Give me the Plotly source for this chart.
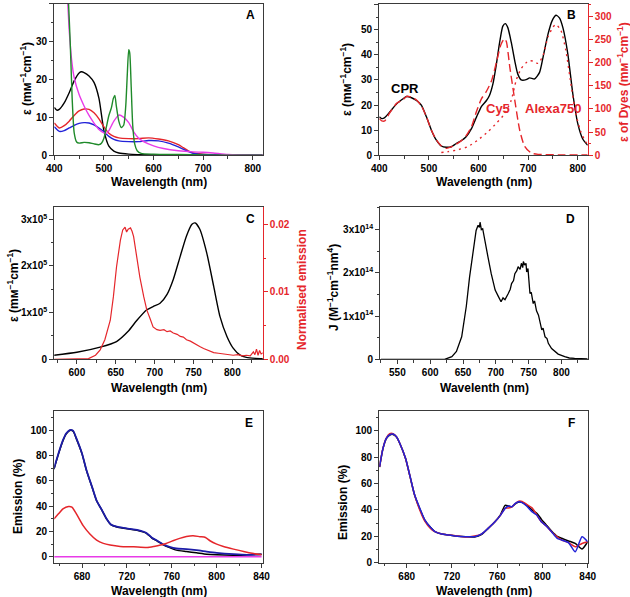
import plotly.graph_objects as go

# ---------------- DATA ----------------
# Panel A: absorbance (epsilon, mM^-1 cm^-1)
a_black_x = [400, 405, 410, 420, 430, 440, 450, 455, 460, 470, 480, 490, 500, 510, 520, 530, 550, 600, 700, 820]
a_black_y = [12.6, 11.9, 12.1, 13.8, 16.5, 19.6, 21.7, 22.0, 21.8, 20.9, 19.2, 15.0, 6.5, 2.4, 1.1, 0.6, 0.3, 0.1, 0.0, 0.0]

a_red_x = [400, 410, 420, 430, 440, 450, 460, 470, 480, 490, 500, 510, 520, 530, 550, 570, 590, 610, 630, 650, 660, 670, 680, 700, 750, 820]
a_red_y = [8.5, 7.2, 7.8, 9.0, 10.5, 11.7, 12.2, 12.1, 11.2, 9.6, 7.5, 5.8, 5.0, 4.6, 4.4, 4.4, 4.6, 4.3, 3.8, 2.8, 2.0, 1.2, 0.6, 0.3, 0.1, 0.0]

a_blue_x = [400, 410, 420, 430, 440, 450, 460, 470, 480, 490, 500, 510, 520, 530, 550, 570, 590, 610, 630, 650, 660, 670, 680, 700, 820]
a_blue_y = [7.5, 6.3, 6.5, 7.2, 7.9, 8.4, 8.6, 8.5, 8.0, 7.2, 6.2, 5.0, 4.2, 3.8, 3.6, 3.6, 3.9, 3.8, 3.2, 2.2, 1.6, 1.0, 0.5, 0.2, 0.0]

a_mag_x = [400, 420, 427, 430, 435, 440, 450, 460, 470, 480, 490, 500, 505, 510, 520, 530, 540, 550, 560, 570, 580, 600, 620, 650, 680, 700, 720, 750, 800, 820]
a_mag_y = [70, 48, 40, 33, 25, 20.5, 16.0, 13.0, 10.5, 8.5, 6.8, 5.9, 5.8, 6.5, 9.0, 10.6, 10.0, 8.6, 6.2, 4.5, 3.6, 2.5, 1.8, 1.2, 0.9, 0.8, 0.6, 0.2, 0.0, 0.0]

a_green_x = [400, 420, 428, 432, 436, 440, 445, 450, 460, 470, 480, 490, 495, 500, 505, 510, 515, 519, 522, 525, 530, 535, 540, 544, 547, 550, 552, 555, 558, 562, 567, 575, 600, 650, 700, 800, 820]
a_green_y = [90, 60, 42, 30, 15, 6.0, 3.5, 3.2, 3.4, 3.3, 3.0, 2.8, 3.2, 4.5, 7.5, 10.5, 12.5, 15.0, 15.8, 13.0, 9.0, 7.3, 8.0, 13.0, 21.0, 27.8, 27.0, 18.0, 8.0, 3.0, 1.2, 0.5, 0.3, 0.2, 0.1, 0.0, 0.0]

# Panel B: CPR conjugate (left axis) and dyes (right axis)
b_cpr_x = [400, 405, 411, 421, 435, 448, 455, 465, 475, 485, 495, 505, 515, 525, 535, 545, 555, 565, 575, 586, 596, 606, 616, 622, 629, 636, 643, 649, 654, 659, 666, 673, 679, 686, 696, 703, 713, 723, 730, 740, 748, 756, 763, 770, 780, 790, 800, 810, 820]
b_cpr_y = [15.3, 14.6, 15.0, 17.2, 20.5, 22.5, 23.4, 22.9, 21.8, 19.9, 15.3, 10.0, 6.0, 3.7, 3.2, 3.4, 4.7, 5.8, 7.4, 10.7, 15.3, 19.5, 21.8, 23.8, 28.4, 36.3, 45.5, 51.4, 52.4, 50.8, 44.9, 37.6, 32.4, 30.0, 30.1, 30.8, 30.4, 33.0, 39.0, 48.2, 53.4, 55.7, 54.7, 50.8, 40.3, 24.5, 12.6, 6.5, 4.0]

b_cy5_x = [400, 405, 411, 420, 435, 448, 455, 465, 475, 485, 495, 505, 515, 525, 535, 545, 555, 565, 575, 586, 596, 606, 616, 626, 636, 645, 652, 656, 663, 673, 683, 693, 706, 720, 760, 820]
b_cy5_y = [79, 74, 74, 90, 112, 120, 127, 125, 119, 106, 83, 54, 33, 20, 15, 18, 24, 31, 42, 62, 95, 122, 138, 160, 200, 238, 251, 245, 190, 119, 54, 19, 5, 2, 1, 1]

b_alexa_x = [525, 539, 559, 579, 599, 619, 636, 653, 666, 676, 686, 700, 710, 720, 730, 740, 750, 756, 766, 776, 786, 796, 806, 816, 820]
b_alexa_y = [6, 8, 12, 19, 33, 51, 69, 90, 119, 162, 187, 203, 203, 198, 215, 255, 276, 282, 269, 226, 155, 90, 51, 29, 25]

b_labels = ["CPR", "Cy5", "Alexa750"]

# Panel C: absorbance of acceptor (left) and donor emission (right)
c_abs_x = [570, 600, 630, 651, 666, 677, 690, 698, 707, 716, 724, 733, 741, 748, 752, 758, 767, 776, 784, 793, 801, 810, 818, 830, 840]
c_abs_y = [8.6e3, 1.5e4, 2.6e4, 3.8e4, 6.0e4, 8.3e4, 1.06e5, 1.13e5, 1.20e5, 1.39e5, 1.71e5, 2.21e5, 2.64e5, 2.89e5, 2.92e5, 2.79e5, 2.28e5, 1.56e5, 9.2e4, 4.9e4, 2.4e4, 9.0e3, 4.0e3, 2.0e3, 1.4e3]

c_em_x = [570, 600, 615, 624, 630, 636, 643, 647, 651, 656, 659, 662, 664, 666, 669, 671, 673, 677, 681, 686, 690, 694, 698, 703, 707, 712, 716, 720, 724, 729, 733, 737, 741, 746, 750, 754, 758, 763, 767, 772, 776, 782, 789, 795, 801, 807, 813, 818, 823, 827, 829, 831, 833, 835, 837, 840]
c_em_y = [0.0, 0.0, 0.0001, 0.0006, 0.0014, 0.0029, 0.0058, 0.0093, 0.0137, 0.0177, 0.0192, 0.0196, 0.0189, 0.0193, 0.0195, 0.0190, 0.0182, 0.0152, 0.0122, 0.0093, 0.0073, 0.0061, 0.0048, 0.0044, 0.0043, 0.0044, 0.0041, 0.0042, 0.0039, 0.0037, 0.0034, 0.0033, 0.0029, 0.0027, 0.0024, 0.0022, 0.0019, 0.0016, 0.0014, 0.0012, 0.0010, 0.0009, 0.0008, 0.0007, 0.0006, 0.0007, 0.0005, 0.0006, 0.0005, 0.0011, 0.0007, 0.0015, 0.0006, 0.0013, 0.0008, 0.0010]

# Panel D: overlap integral J
d_x = [525, 600, 622, 633, 640, 648, 655, 660, 666, 670, 673, 675, 676, 678, 680, 683, 688, 693, 699, 704, 708, 711, 714, 719, 722, 724, 727, 729, 732, 734, 737, 739, 741, 742, 744, 746, 747, 749, 752, 754, 757, 759, 762, 765, 768, 770, 772, 775, 778, 780, 785, 790, 795, 805, 812, 820, 830, 840]
d_y = [0, 0, 0.0, 0.06e14, 0.18e14, 0.52e14, 1.22e14, 1.90e14, 2.60e14, 2.98e14, 3.10e14, 3.05e14, 3.17e14, 3.00e14, 3.02e14, 2.75e14, 2.37e14, 1.98e14, 1.60e14, 1.45e14, 1.33e14, 1.42e14, 1.38e14, 1.52e14, 1.62e14, 1.75e14, 1.82e14, 1.98e14, 2.05e14, 2.14e14, 2.08e14, 2.22e14, 2.12e14, 2.26e14, 2.18e14, 2.22e14, 2.02e14, 2.10e14, 1.52e14, 1.55e14, 1.29e14, 1.35e14, 1.12e14, 1.02e14, 0.85e14, 0.68e14, 0.72e14, 0.52e14, 0.48e14, 0.37e14, 0.25e14, 0.18e14, 0.12e14, 0.06e14, 0.03e14, 0.02e14, 0.02e14, 0.01e14]

# Panel E: emission (%)
e_x = [655, 659, 663, 666, 669, 672, 675, 680, 684, 689, 693, 698, 702, 706, 711, 717, 723, 729, 735, 738, 742, 747, 752, 758, 764, 773, 782, 791, 800, 815, 827, 840]
e_blue = [69.6, 81.5, 92.0, 97.4, 100.0, 99.5, 93.4, 81.5, 68.3, 55.0, 44.4, 36.5, 29.9, 25.4, 23.8, 22.8, 22.0, 21.2, 19.8, 18.5, 15.3, 12.7, 10.0, 7.9, 6.6, 6.1, 5.3, 4.2, 3.2, 2.1, 1.6, 2.0]
e_black = [69.0, 81.0, 91.6, 97.0, 99.6, 99.2, 93.0, 81.2, 68.0, 54.8, 44.2, 36.3, 29.7, 25.2, 23.6, 22.6, 21.8, 21.0, 19.5, 18.2, 15.0, 12.4, 9.7, 7.3, 5.3, 4.2, 3.2, 2.1, 1.6, 1.3, 1.6, 2.0]
e_red_x = [655, 659, 663, 668, 671, 675, 681, 687, 693, 699, 705, 714, 726, 738, 744, 750, 755, 761, 767, 773, 779, 785, 790, 794, 800, 806, 815, 824, 833, 840]
e_red_y = [29.9, 33.9, 37.8, 39.7, 39.2, 33.9, 24.6, 18.0, 13.2, 10.6, 9.3, 8.2, 7.9, 7.4, 8.2, 9.3, 10.6, 12.7, 14.6, 16.1, 16.7, 15.9, 15.3, 12.7, 10.0, 8.2, 6.1, 4.2, 2.6, 1.6]
e_mag_x = [655, 840]
e_mag_y = [0, 0]

# Panel F: normalised emission (%)
f_x = [656, 659, 662, 665, 668, 671, 674, 679, 683, 687, 692, 696, 701, 705, 711, 717, 723, 732, 740, 746, 752, 758, 763, 767, 770, 773, 776, 779, 782, 786, 791, 795, 799, 804, 808, 813, 817, 823, 829, 835, 840]
f_red = [72.7, 86.6, 94.5, 97.8, 97.8, 95.5, 90.4, 79.0, 65.2, 51.3, 39.0, 31.5, 26.0, 23.5, 21.7, 21.0, 20.5, 19.5, 20.2, 21.7, 26.0, 31.0, 36.1, 41.2, 41.5, 42.4, 44.9, 46.7, 46.5, 44.2, 41.5, 36.1, 31.1, 27.3, 23.5, 19.7, 17.2, 15.2, 12.0, 14.6, 15.9]
f_black = [72.5, 86.3, 94.0, 96.8, 97.2, 95.2, 90.2, 79.0, 65.2, 51.3, 39.9, 32.3, 26.8, 23.5, 21.7, 21.0, 20.2, 19.7, 19.5, 21.2, 26.0, 31.0, 36.5, 43.5, 43.0, 42.4, 44.5, 46.0, 45.8, 43.7, 39.9, 37.5, 33.0, 28.0, 24.0, 20.0, 18.5, 16.5, 14.6, 10.4, 15.9]
f_blue = [72.6, 86.5, 94.2, 97.0, 97.5, 95.5, 90.4, 79.2, 65.4, 51.5, 40.5, 32.5, 26.8, 23.5, 21.7, 21.0, 20.2, 19.7, 19.7, 21.7, 26.0, 31.0, 36.1, 41.2, 42.9, 42.4, 44.9, 46.2, 45.5, 43.0, 38.5, 36.1, 31.1, 27.3, 23.5, 18.5, 17.2, 15.2, 8.3, 19.7, 15.9]

# ---------------- STYLE / LAYOUT ----------------
W, H = 630, 597
FONT = "Liberation Sans, Arial, sans-serif"
AX = "#3a3a3a"
RED = "#e5262b"
BLUE_E = "#1c1ca8"
BLUE = "#2222d8"
GREEN = "#1f8a2a"
MAG = "#e83be8"


def fx(p):
    return p / W


def fy(p):
    return 1 - p / H


def tickfont(color="black"):
    return dict(family=FONT, size=10, color=color, weight=700)


def axis(domain, rng, dtick, minor, anchor, color=AX, lblcolor="black", mirror=True,
         tickvals=None, ticktext=None, **kw):
    d = dict(domain=domain, range=rng, anchor=anchor, showgrid=False, zeroline=False,
             automargin=False,
             showline=True, linecolor=color, linewidth=1.3, mirror=mirror,
             ticks="outside", ticklen=4, tickwidth=1.2, tickcolor=color,
             tickfont=tickfont(lblcolor),
             minor=dict(ticks="outside", ticklen=2.5, tickwidth=1, tickcolor=color,
                        tickmode="linear", tick0=0, dtick=minor, showgrid=False))
    if tickvals is not None:
        d.update(tickmode="array", tickvals=tickvals, ticktext=ticktext)
    else:
        d.update(tickmode="linear", tick0=0, dtick=dtick)
    d.update(kw)
    return d


# plot areas in pixels (left, right, top, bottom)
PA = dict(A=(54.3, 262.7, 3.5, 155.3), B=(379.3, 587.7, 3.5, 155.3),
          C=(54.3, 262.7, 207.3, 359.3), D=(380.3, 587.7, 207.3, 359.3),
          E=(54.3, 262.7, 411, 562.7), F=(379.3, 587.7, 411, 562.7))


def xd(k):
    l, r, t, b = PA[k]
    return [fx(l), fx(r)]


def yd(k):
    l, r, t, b = PA[k]
    return [fy(b), fy(t)]


fig = go.Figure()


def line(x, y, color, xa, ya, width=1.4, dash="solid"):
    fig.add_trace(go.Scatter(x=x, y=y, mode="lines", xaxis=xa, yaxis=ya,
                             line=dict(color=color, width=width, dash=dash, shape="spline", smoothing=0.6),
                             showlegend=False, hoverinfo="skip"))


# Panel A
line(a_black_x, a_black_y, "black", "x", "y")
line(a_red_x, a_red_y, RED, "x", "y")
line(a_blue_x, a_blue_y, BLUE, "x", "y")
line(a_mag_x, a_mag_y, MAG, "x", "y")
line(a_green_x, a_green_y, GREEN, "x", "y")

# Panel B
line(b_cy5_x, b_cy5_y, RED, "x2", "y7", dash="8px,4px")
line(b_alexa_x, b_alexa_y, RED, "x2", "y7", dash="2px,4px")
line(b_cpr_x, b_cpr_y, "black", "x2", "y2")

# Panel C
line(c_abs_x, c_abs_y, "black", "x3", "y3")
fig.add_trace(go.Scatter(x=c_em_x, y=c_em_y, mode="lines", xaxis="x3", yaxis="y8",
                         line=dict(color=RED, width=1.2), showlegend=False, hoverinfo="skip"))

# Panel D
fig.add_trace(go.Scatter(x=d_x, y=d_y, mode="lines", xaxis="x4", yaxis="y4",
                         line=dict(color="black", width=1.3), showlegend=False, hoverinfo="skip"))

# Panel E
line(e_x, e_black, "black", "x5", "y5", width=1.5)
line(e_x, e_blue, BLUE_E, "x5", "y5", width=1.8)
line(e_red_x, e_red_y, RED, "x5", "y5", width=1.5)
line(e_mag_x, e_mag_y, MAG, "x5", "y5", width=1.5)

# Panel F
line(f_x, f_black, "black", "x6", "y6", width=1.5)
line(f_x, f_red, RED, "x6", "y6", width=1.5)
line(f_x, f_blue, BLUE, "x6", "y6", width=1.5)

c_ticks = [0, 1e5, 2e5, 3e5]
c_text = ["0", "1x10<sup>5</sup>", "2x10<sup>5</sup>", "3x10<sup>5</sup>"]
d_ticks = [0, 1e14, 2e14, 3e14]
d_text = ["0", "1x10<sup>14</sup>", "2x10<sup>14</sup>", "3x10<sup>14</sup>"]

fig.update_layout(
    width=W, height=H, margin=dict(l=0, r=0, t=0, b=0, autoexpand=False),
    paper_bgcolor="white", plot_bgcolor="white",
    font=dict(family=FONT, size=10, color="black"),
    xaxis=axis(xd("A"), [400, 820], 100, 50, "y"),
    yaxis=axis(yd("A"), [0, 40], 10, 5, "x"),
    xaxis2=axis(xd("B"), [400, 820], 100, 50, "y2"),
    yaxis2=axis(yd("B"), [0, 60.4], 10, 5, "x2", mirror=False),
    xaxis3=axis(xd("C"), [571, 839], 50, 25, "y3"),
    yaxis3=axis(yd("C"), [0, 3.255e5], None, 5e4, "x3", mirror=False,
                tickvals=c_ticks, ticktext=c_text),
    xaxis4=axis(xd("D"), [524, 840], 50, 25, "y4"),
    yaxis4=axis(yd("D"), [0, 3.515e14], None, 5e13, "x4",
                tickvals=d_ticks, ticktext=d_text),
    xaxis5=axis(xd("E"), [655.3, 841], 40, 20, "y5"),
    yaxis5=axis(yd("E"), [-4.6, 115], 20, 10, "x5"),
    xaxis6=axis(xd("F"), [655.8, 840], 40, 20, "y6"),
    yaxis6=axis(yd("F"), [0, 115], 20, 10, "x6"),
    yaxis7=axis(yd("B"), [0, 327], 50, 25, "x2", color=RED, lblcolor=RED, mirror=False,
                overlaying="y2", side="right"),
    yaxis8=axis(yd("C"), [0, 0.02256], 0.01, 0.005, "x3", color=RED, lblcolor=RED, mirror=False,
                overlaying="y3", side="right", tickformat=".2f"),
)

EPS = "ε (mᴍ<sup>−1</sup>cm<sup>−1</sup>)"
anns = []


def txt(text, x, y, size=12, color="black", angle=0):
    anns.append(dict(text=text, x=fx(x), y=fy(y), xref="paper", yref="paper",
                     xanchor="center", yanchor="middle", showarrow=False, textangle=angle,
                     font=dict(family=FONT, size=size, color=color, weight=700)))


# x titles
txt("Wavelength (nm)", 158.5, 182.5)
txt("Wavelength (nm)", 483.5, 182.5)
txt("Wavelength (nm)", 158.5, 387.5)
txt("Wavelenth (nm)", 484, 387.5)
txt("Wavelength (nm)", 158.5, 591)
txt("Wavelength (nm)", 483.5, 591)
# y titles
txt(EPS, 26, 79, angle=-90)
txt(EPS, 346, 80, angle=-90)
txt("ε of Dyes (mᴍ<sup>−1</sup>cm<sup>−1</sup>)", 623, 82, color=RED, angle=-90)
txt(EPS, 13, 286, angle=-90)
txt("Normalised emission", 302, 290, color=RED, angle=-90)
txt("J (M<sup>−1</sup>cm<sup>−1</sup>nm<sup>4</sup>)", 333, 288, angle=-90)
txt("Emission (%)", 18, 497, angle=-90)
txt("Emission (%)", 343, 502, angle=-90)
# panel letters
for letter, x, y in [("A", 250, 15), ("B", 571, 15), ("C", 250, 219),
                     ("D", 570, 219), ("E", 249, 423), ("F", 571, 423)]:
    txt(letter, x, y, size=12)
# panel B curve labels
txt(b_labels[0], 405, 88, size=13)
txt(b_labels[1], 498, 108, size=13, color=RED)
txt(b_labels[2], 553, 108, size=13, color=RED)

fig.update_layout(annotations=anns)
fig.write_html(
    "out.html",
    config={"displayModeBar": False},
    post_script="document.body.style.margin='0px';document.body.style.overflow='hidden';",
)
